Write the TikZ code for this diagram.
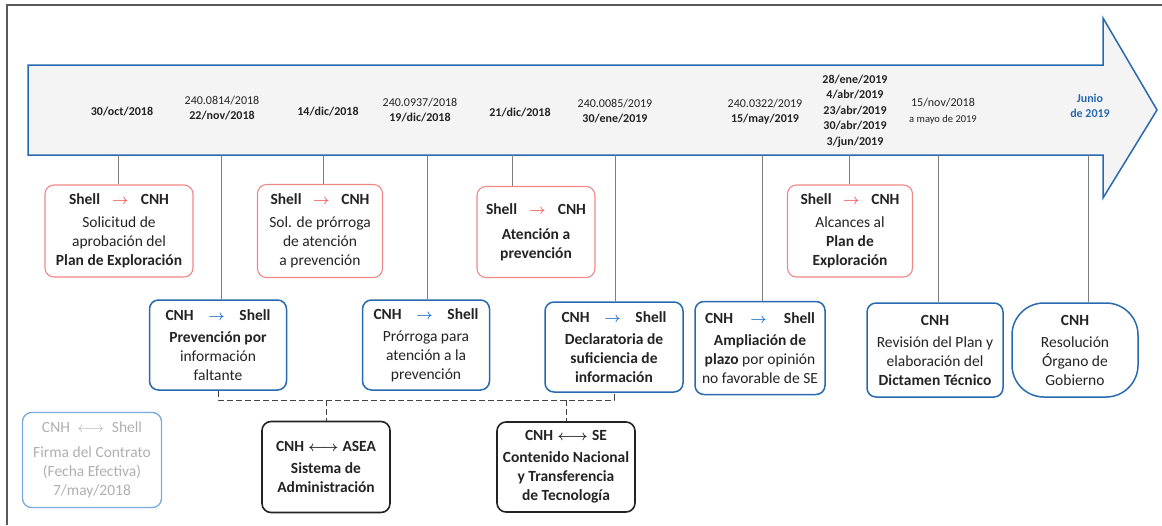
\documentclass[tikz,border=0pt]{standalone}
\usepackage{amsmath}
\usepackage{fontspec}
\setmainfont{Carlito}
\definecolor{ink}{RGB}{35,35,35}
\definecolor{blueline}{RGB}{40,105,175}
\definecolor{redline}{RGB}{240,135,135}
\definecolor{redarrow}{RGB}{240,100,100}
\definecolor{bluearrow}{RGB}{40,120,200}
\definecolor{arrowfill}{RGB}{244,244,244}
\definecolor{fadeline}{RGB}{120,170,225}
\definecolor{fadetext}{RGB}{175,175,175}
\definecolor{tickgray}{RGB}{125,125,125}
\definecolor{framegray}{RGB}{90,90,90}
\newcommand{\boxfont}{\fontsize{15.5}{19}\selectfont}
\newcommand{\datefont}{\fontsize{12}{15.5}\selectfont}
\newcommand{\flowhdr}[4]{\makebox[#4]{\textbf{#1}\hfill\textcolor{#3}{$\boldsymbol{\rightarrow}$}\hfill\textbf{#2}}}
\newcommand{\bothhdr}[3]{\makebox[#3]{\textbf{#1}\hfill$\boldsymbol{\longleftrightarrow}$\hfill\textbf{#2}}}

\begin{document}
\begin{tikzpicture}[x=1pt,y=-1pt,
    tlbox/.style={rounded corners=9pt,align=center,inner sep=1pt,font=\boxfont,text=ink},
    redbox/.style={tlbox,draw=redline,line width=1.1pt},
    bluebox/.style={tlbox,draw=blueline,line width=1.5pt},
    blackbox/.style={tlbox,draw=ink,line width=1.6pt},
    fadebox/.style={tlbox,draw=fadeline,line width=1.3pt,text=fadetext},
    datelbl/.style={align=center,font=\datefont,text=ink},
    tick/.style={draw=tickgray,line width=0.6pt},
    dashlink/.style={draw=ink!85,dash pattern=on 6pt off 3pt,line width=0.8pt}]
    \useasboundingbox (0,0) rectangle (1162,525);
    \draw[framegray,line width=1.2pt] (7,525) -- (7,5) -- (1162,5);
    \draw[fill=arrowfill,draw=blueline,line width=1.5pt] (28,65) -- (1103,65) -- (1103,18) -- (1157,110)
        -- (1103,198) -- (1103,155) -- (28,155) -- cycle;

    \node[datelbl] (d1) at (122,112) {\textbf{30/oct/2018}};
    \node[datelbl] (d2) at (222,108) {240.0814/2018\\ \textbf{22/nov/2018}};
    \node[datelbl] (d3) at (328,112) {\textbf{14/dic/2018}};
    \node[datelbl] (d4) at (420,110) {240.0937/2018\\ \textbf{19/dic/2018}};
    \node[datelbl] (d5) at (520,113) {\textbf{21/dic/2018}};
    \node[datelbl] (d6) at (615,111) {240.0085/2019\\ \textbf{30/ene/2019}};
    \node[datelbl] (d7) at (765,112) {240.0322/2019\\ \textbf{15/may/2019}};
    \node[datelbl] (d8) at (855,111) {\textbf{28/ene/2019}\\ \textbf{4/abr/2019}\\ \textbf{23/abr/2019}\\
        \textbf{30/abr/2019}\\ \textbf{3/jun/2019}};
    \node[datelbl] (d9) at (943,111) {15/nov/2018\\ {\fontsize{10.5}{12}\selectfont a mayo de 2019}};
    \node[datelbl,text=blueline] (d10) at (1090,106) {\textbf{Junio}\\ \textbf{de 2019}};

    \foreach \n/\x in {1/118,2/221,3/323,4/427,5/512,6/615,7/762,8/849,9/938,10/1088}
        \coordinate (t\n) at (\x,155);

    \node[redbox,minimum width=148pt,minimum height=92pt] (solicitud) at (119,231)
        {\flowhdr{Shell}{CNH}{redarrow}{100pt}\\[4pt] Solicitud de\\ aprobación del\\ \textbf{Plan de Exploración}};
    \node[redbox,minimum width=125pt,minimum height=93pt] (solprorroga) at (320,231)
        {\flowhdr{Shell}{CNH}{redarrow}{99pt}\\[4pt] Sol. de prórroga\\ de atención\\ a prevención};
    \node[redbox,minimum width=118pt,minimum height=91pt] (atencion) at (536,232)
        {\flowhdr{Shell}{CNH}{redarrow}{100pt}\\[6pt] \textbf{Atención a}\\ \textbf{prevención}};
    \node[redbox,minimum width=125pt,minimum height=92pt] (alcances) at (850,231)
        {\flowhdr{Shell}{CNH}{redarrow}{99pt}\\[4pt] Alcances al\\ \textbf{Plan de}\\ \textbf{Exploración}};

    \node[bluebox,minimum width=137pt,minimum height=90pt] (prevencion) at (218,345)
        {\flowhdr{CNH}{Shell}{bluearrow}{105pt}\\[3pt] \textbf{Prevención por}\\ información\\ faltante};
    \node[bluebox,minimum width=127pt,minimum height=90pt] (prorroga) at (426,345)
        {\flowhdr{CNH}{Shell}{bluearrow}{105pt}\\[3pt] Prórroga para\\ atención a la\\ prevención};
    \node[bluebox,minimum width=138pt,minimum height=90pt] (declaratoria) at (614,347)
        {\flowhdr{CNH}{Shell}{bluearrow}{105pt}\\[3pt] \textbf{Declaratoria de}\\ \textbf{suficiencia de}\\ \textbf{información}};
    \node[bluebox,minimum width=130pt,minimum height=93pt] (ampliacion) at (760,348)
        {\flowhdr{CNH}{Shell}{bluearrow}{110pt}\\[3pt] \textbf{Ampliación de}\\ \textbf{plazo} por opinión\\ no favorable de SE};
    \node[bluebox,minimum width=136pt,minimum height=94pt] (revision) at (935,350)
        {\textbf{CNH}\\[3pt] Revisión del Plan y\\ elaboración del\\ \textbf{Dictamen Técnico}};
    \node[bluebox,rounded corners=32pt,minimum width=126pt,minimum height=94pt] (resolucion) at (1075,350)
        {\textbf{CNH}\\[3pt] Resolución\\ Órgano de\\ Gobierno};

    \node[blackbox,minimum width=128pt,minimum height=91pt] (asea) at (326,467)
        {\bothhdr{CNH}{ASEA}{100pt}\\[3pt] \textbf{Sistema de}\\ \textbf{Administración}};
    \node[blackbox,minimum width=138pt,minimum height=90pt] (se) at (566,467)
        {\bothhdr{CNH}{SE}{82pt}\\[3pt] \textbf{Contenido Nacional}\\ \textbf{y Transferencia}\\ \textbf{de Tecnología}};
    \node[fadebox,minimum width=139pt,minimum height=95pt] (firma) at (92,460)
        {\makebox[100pt]{CNH\hfill$\longleftrightarrow$\hfill Shell}\\[6pt] Firma del Contrato\\ (Fecha Efectiva)\\ 7/may/2018};

    \draw[tick] (t1) -- (t1 |- solicitud.north);
    \draw[tick] (t2) -- (t2 |- prevencion.north);
    \draw[tick] (t3) -- (t3 |- solprorroga.north);
    \draw[tick] (t4) -- (t4 |- prorroga.north);
    \draw[tick] (t5) -- (t5 |- atencion.north);
    \draw[tick] (t6) -- (t6 |- declaratoria.north);
    \draw[tick] (t7) -- (t7 |- ampliacion.north);
    \draw[tick] (t8) -- (t8 |- alcances.north);
    \draw[tick] (t9) -- (t9 |- revision.north);
    \draw[tick] (t10) -- (t10 |- resolucion.north);

    \coordinate (bus) at (0,400);
    \draw[dashlink] (prevencion.south) -- (prevencion.south |- bus) -- (declaratoria.south |- bus) -- (declaratoria.south);
    \draw[dashlink] (asea.north |- bus) -- (asea.north);
    \draw[dashlink] (se.north |- bus) -- (se.north);
\end{tikzpicture}
\end{document}
